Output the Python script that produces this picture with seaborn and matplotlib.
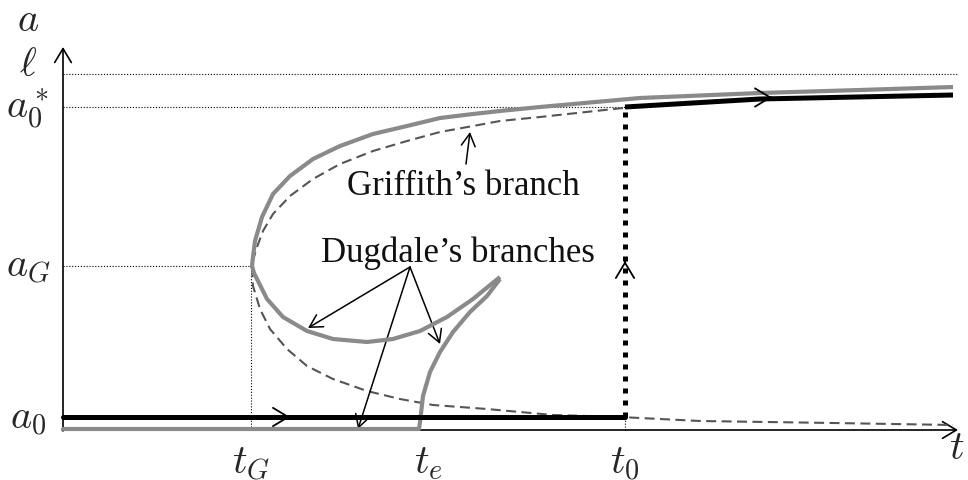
import matplotlib
matplotlib.use("Agg")
import matplotlib.pyplot as plt
import seaborn as sns

# Landmark values on the two axes
t_G, t_e, t_0, t_max = 1.88, 3.56, 5.62, 8.95
a_0, a_G, a_0_star, ell, a_max = 0.13, 1.64, 3.23, 3.56, 3.83

# Dugdale's branch: upper part, the nose at (t_G, a_G), the lower loop and up to the cusp
dugdale_t = [8.90, 7.97, 6.97, 5.77, 4.77, 4.37, 4.10, 3.77, 3.44, 3.10, 2.77, 2.50,
             2.27, 2.10, 1.99, 1.92, 1.90, 1.89, 1.91, 1.94, 2.04, 2.20, 2.44, 2.70,
             3.04, 3.30, 3.57, 3.84, 4.10, 4.37]
dugdale_a = [3.43, 3.40, 3.37, 3.32, 3.23, 3.19, 3.16, 3.12, 3.04, 2.96, 2.84, 2.71,
             2.54, 2.36, 2.13, 1.89, 1.73, 1.64, 1.57, 1.51, 1.31, 1.13, 0.99, 0.91,
             0.88, 0.91, 0.99, 1.13, 1.31, 1.53]

# Dugdale's branch rising from t_e to the cusp
rise_t = [3.56, 3.57, 3.60, 3.67, 3.77, 3.90, 4.07, 4.24, 4.37]
rise_a = [0.01, 0.08, 0.34, 0.58, 0.78, 0.98, 1.18, 1.34, 1.51]

# Griffith's branch (dashed)
griffith_t = [5.60, 4.77, 4.37, 4.10, 3.77, 3.44, 3.10, 2.77, 2.50, 2.27, 2.10, 2.00,
              1.94, 1.90, 1.89, 1.90, 1.97, 2.07, 2.24, 2.44, 2.70, 3.04, 3.37, 3.70,
              4.24, 4.90, 5.57, 6.37, 7.70, 8.90]
griffith_a = [3.22, 3.13, 3.09, 3.04, 2.98, 2.89, 2.79, 2.66, 2.51, 2.34, 2.16, 1.99,
              1.83, 1.70, 1.64, 1.44, 1.21, 1.01, 0.81, 0.64, 0.51, 0.39, 0.31, 0.25,
              0.21, 0.15, 0.13, 0.09, 0.07, 0.05]

# Actual crack path after the jump at t_0
jump_t = [t_0, 6.97, 8.90]
jump_a = [a_0_star, 3.31, 3.35]

# Undamaged state along the time axis
flat_a = 0.01

# Axis labels (math text)
ylabels = [r"$a$", r"$\ell$", r"$a_0^*$", r"$a_G$", r"$a_0$"]
ylabel_pos = [4.09, 3.65, 3.22, 1.63, 0.11]
xlabels = [r"$t_G$", r"$t_e$", r"$t_0$", r"$t$"]
xlabel_pos = [t_G, 3.65, t_0, 8.94]

sns.set_theme(style="white")
plt.rcParams["mathtext.fontset"] = "cm"
plt.rcParams["font.family"] = ["Liberation Serif", "DejaVu Serif"]

fig = plt.figure(figsize=(9.68, 4.81), dpi=100)
fig.patch.set_facecolor("white")
ax = fig.add_axes([0, 0, 1, 1])
ax.set_xlim(-0.63, 9.05)
ax.set_ylim(-0.50, 4.31)
ax.set_axis_off()

GREY = "#8a8a8a"
DASH = "#555555"
thin_dot = (0, (1, 1.6))

# Thin dotted guide lines
sns.lineplot(x=[0, t_max], y=[ell, ell], ax=ax, color="black", lw=0.8, linestyle=thin_dot)
sns.lineplot(x=[0, t_0], y=[a_0_star, a_0_star], ax=ax, color="black", lw=0.8, linestyle=thin_dot)
sns.lineplot(x=[0, t_G], y=[a_G, a_G], ax=ax, color="black", lw=0.8, linestyle=thin_dot)
sns.lineplot(x=[t_G, t_G], y=[0, a_G], ax=ax, color="black", lw=0.8, linestyle=thin_dot,
             sort=False, estimator=None)
sns.lineplot(x=[t_0, t_0], y=[0, a_0], ax=ax, color="black", lw=0.8, linestyle=thin_dot,
             sort=False, estimator=None)

# Coordinate axes with arrow tips
arrow_axis = dict(arrowstyle="->,head_length=0.5,head_width=0.3", mutation_scale=20,
                  lw=1.2, color="black", shrinkA=0, shrinkB=0)
ax.annotate("", xy=(t_max, 0), xytext=(-0.01, 0), arrowprops=arrow_axis)
ax.annotate("", xy=(0, a_max), xytext=(0, -0.01), arrowprops=arrow_axis)

# Griffith's branch
sns.lineplot(x=griffith_t, y=griffith_a, ax=ax, sort=False, estimator=None,
             color=DASH, lw=1.5, linestyle=(0, (4.8, 2.6)), zorder=3)

# Dugdale's branches
line_kw = dict(solid_joinstyle="round", solid_capstyle="butt")
sns.lineplot(x=[0, t_e], y=[flat_a, flat_a], ax=ax, color=GREY, lw=3.0, zorder=4)
sns.lineplot(x=dugdale_t, y=dugdale_a, ax=ax, sort=False, estimator=None,
             color=GREY, lw=3.0, zorder=4, **line_kw)
sns.lineplot(x=rise_t, y=rise_a, ax=ax, sort=False, estimator=None,
             color=GREY, lw=3.0, zorder=4, **line_kw)

# Crack evolution: stays at a_0, jumps at t_0, then follows the upper branch
sns.lineplot(x=[0, t_0], y=[a_0, a_0], ax=ax, color="black", lw=3.6, zorder=5)
sns.lineplot(x=jump_t, y=jump_a, ax=ax, sort=False, estimator=None,
             color="black", lw=3.6, zorder=5, **line_kw)
ax.plot([t_0, t_0], [a_0, a_0_star], color="black", lw=3.6,
        linestyle=(0, (1, 1.4)), dash_capstyle="butt", zorder=6)

# Direction chevrons
chev = dict(arrowstyle="->,head_length=0.55,head_width=0.33", mutation_scale=20,
            lw=1.3, color="black", shrinkA=0, shrinkB=0)
ax.annotate("", xy=(2.27, a_0), xytext=(2.26, a_0), arrowprops=chev, zorder=7)
ax.annotate("", xy=(7.09, 3.325), xytext=(7.08, 3.325), arrowprops=chev, zorder=7)
ax.annotate("", xy=(t_0, 1.69), xytext=(t_0, 1.68), arrowprops=chev, zorder=7)

# Branch annotations
pointer = dict(arrowstyle="->,head_length=0.45,head_width=0.25", mutation_scale=20,
               lw=1.1, color="black", shrinkA=0, shrinkB=0)
ax.text(4.00, 2.36, "Griffith\u2019s branch", ha="center", va="baseline", fontsize=25,
        color="#111111")
ax.annotate("", xy=(4.07, 2.98), xytext=(4.03, 2.66), arrowprops=pointer)
ax.text(3.95, 1.69, "Dugdale\u2019s branches", ha="center", va="baseline", fontsize=25,
        color="#111111")
src = (3.47, 1.63)
for tip in [(2.45, 1.02), (3.77, 0.86), (2.95, 0.01)]:
    ax.annotate("", xy=tip, xytext=src, arrowprops=pointer)

for lab, y in zip(ylabels, ylabel_pos):
    ax.text(-0.35, y, lab, ha="center", va="center", fontsize=29)
for lab, x in zip(xlabels, xlabel_pos):
    y = -0.19 if lab == r"$t$" else -0.33
    ax.text(x, y, lab, ha="center", va="center", fontsize=29)

fig.savefig("out.png", dpi=100, facecolor="white")
